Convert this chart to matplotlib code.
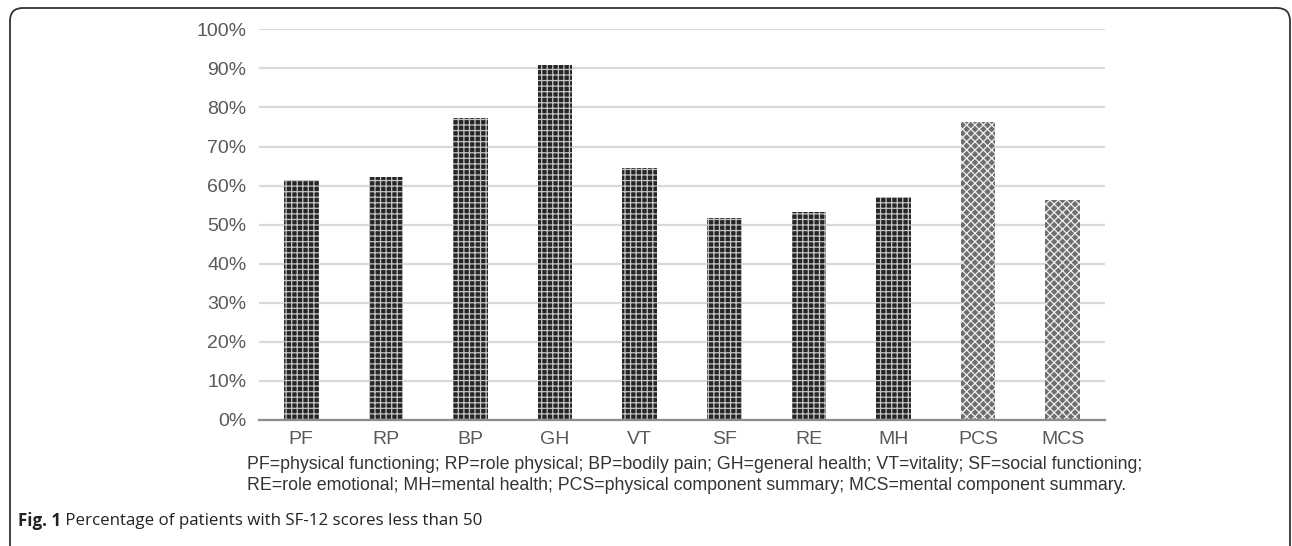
import matplotlib
matplotlib.use("Agg")
from matplotlib import pyplot as plt
from matplotlib.patches import FancyBboxPatch
from matplotlib.ticker import PercentFormatter

# SF-12 domains and share of patients scoring below 50
domains = ["PF", "RP", "BP", "GH", "VT", "SF", "RE", "MH", "PCS", "MCS"]
percentBelow50 = [61.4, 62.2, 77.4, 90.8, 64.6, 51.8, 53.3, 57.0, 76.2, 56.3]
summaryScores = ["PCS", "MCS"]
yTicks = [0, 10, 20, 30, 40, 50, 60, 70, 80, 90, 100]

legendText = ("PF=physical functioning; RP=role physical; BP=bodily pain; GH=general health; VT=vitality; SF=social functioning;\n"
              "RE=role emotional; MH=mental health; PCS=physical component summary; MCS=mental component summary.")
captionBold = "Fig. 1"
captionText = " Percentage of patients with SF-12 scores less than 50"

W, H = 1292, 546
plt.rcParams["font.family"] = ["Liberation Sans", "DejaVu Sans"]
plt.rcParams["hatch.linewidth"] = 0.9

fig = plt.figure(figsize=(W / 100, H / 100), dpi=100)
ax = fig.add_axes([259 / W, 1 - 420 / H, (1105 - 259) / W, (420 - 29.3) / H])

for i, (name, value) in enumerate(zip(domains, percentBelow50)):
    if name in summaryScores:
        ax.bar(i, value, width=0.41, facecolor="#6e6e6e", edgecolor="#eeeeee",
               hatch="xxxx", linewidth=0, zorder=3)
    else:
        ax.bar(i, value, width=0.41, facecolor="#262626", edgecolor="#c4c4c4",
               hatch="+++", linewidth=0, zorder=3)

ax.set_xlim(-0.5, len(domains) - 0.5)
ax.set_ylim(0, 100)
ax.set_yticks(yTicks)
ax.yaxis.set_major_formatter(PercentFormatter(decimals=0))
ax.set_xticks(range(len(domains)))
ax.set_xticklabels(domains)
ax.grid(axis="y", color="#d9d9d9", linewidth=1.6, zorder=0)
ax.tick_params(axis="both", length=0, labelsize=14, colors="#595959")
ax.tick_params(axis="y", pad=9)
ax.tick_params(axis="x", pad=8)
for side in ["top", "right", "left"]:
    ax.spines[side].set_visible(False)
ax.spines["bottom"].set_color("#8c8c8c")
ax.spines["bottom"].set_linewidth(1.6)
ax.spines["bottom"].set_zorder(4)

fig.text(247 / W, 1 - 475 / H, legendText, fontsize=12.8, color="#333333",
         ha="left", va="center", linespacing=1.3)

capText = fig.text(18 / W, 1 - 521 / H, captionBold, fontsize=12.2, fontweight="bold",
                   family="Open Sans", color="#222222", ha="left", va="center")
fig.canvas.draw()
bb = capText.get_window_extent()
fig.text(bb.x1 / W, 1 - 521 / H, captionText, fontsize=12.2, family="Open Sans",
         color="#222222", ha="left", va="center")

frame = FancyBboxPatch((10 / W, -20 / H), 1280 / W, (546 - 8 + 20) / H,
                       boxstyle="round,pad=0,rounding_size=0.01",
                       transform=fig.transFigure, facecolor="none",
                       edgecolor="#333333", linewidth=1.3, mutation_aspect=W / H)
fig.patches.append(frame)

fig.savefig("out.png", dpi=100)
